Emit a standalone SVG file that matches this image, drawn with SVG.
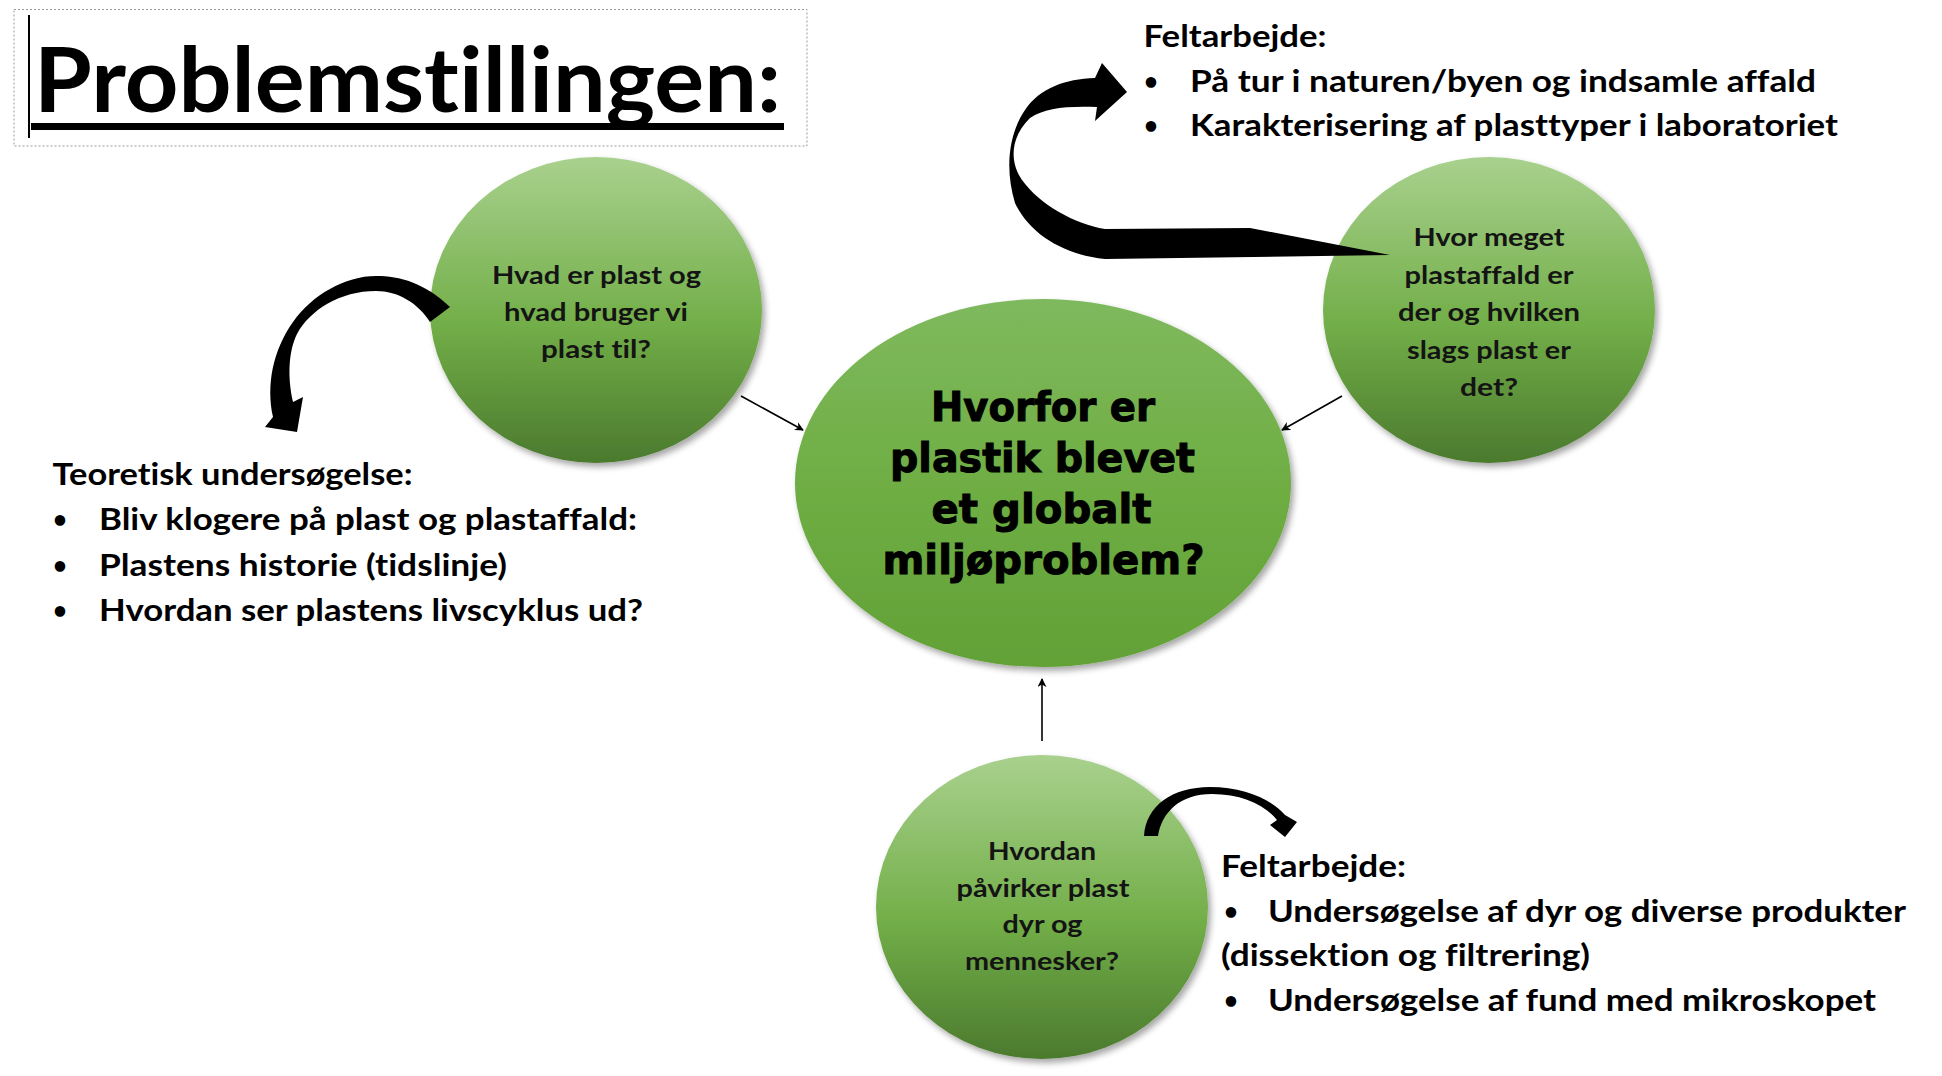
<svg xmlns="http://www.w3.org/2000/svg" width="1942" height="1076" viewBox="0 0 1942 1076">
<defs>
<style>
.t{font-family:Lato,"Open Sans","Liberation Sans",sans-serif;font-weight:700;fill:#000;font-variant-ligatures:none;}
.lbl{font-size:31px;}
.bul{font-size:24px;}
.nd{font-size:25px;fill:#141414;}
.ctr{font-family:"DejaVu Sans",Verdana,sans-serif;font-weight:700;font-size:40px;fill:#000;stroke:#000;stroke-width:1;}
.con{stroke:#000;stroke-width:1.6;fill:none;marker-end:url(#ah);}
.big{fill:#000;stroke:none;}
</style>
<linearGradient id="gs" x1="0" y1="0" x2="0" y2="1">
<stop offset="0" stop-color="#a9d18e"/>
<stop offset="0.55" stop-color="#72ae48"/>
<stop offset="1" stop-color="#4b7a2e"/>
</linearGradient>
<linearGradient id="gc" x1="0" y1="0" x2="0" y2="1">
<stop offset="0" stop-color="#7fb95e"/>
<stop offset="0.5" stop-color="#6fae44"/>
<stop offset="1" stop-color="#62a136"/>
</linearGradient>
<filter id="sh" x="-10%" y="-10%" width="125%" height="125%">
<feDropShadow dx="3" dy="4" stdDeviation="3" flood-color="#000" flood-opacity="0.35"/>
</filter>
<marker id="ah" viewBox="0 0 10 10" refX="9" refY="5" markerWidth="9" markerHeight="9" markerUnits="userSpaceOnUse" orient="auto">
<path d="M0,0 L10,5 L0,10 L3,5 Z" fill="#000"/>
</marker>
</defs>
<rect width="1942" height="1076" fill="#fff"/>

<g id="title">
<rect x="14" y="9.5" width="793" height="136.5" fill="none" stroke="#9a9a9a" stroke-width="1" stroke-dasharray="2,2"/>
<line x1="29" y1="15" x2="29" y2="138" stroke="#000" stroke-width="2"/>
<text class="t" x="34" y="112" font-size="89" textLength="747" lengthAdjust="spacingAndGlyphs">Problemstillingen:</text>
<rect x="31" y="123" width="753" height="7" fill="#000"/>
</g>

<g id="node-center">
<ellipse cx="1043" cy="483" rx="248" ry="184" fill="url(#gc)" filter="url(#sh)"/>
<text class="ctr" x="931" y="421" textLength="224" lengthAdjust="spacingAndGlyphs">Hvorfor er</text>
<text class="ctr" x="890" y="472" textLength="305" lengthAdjust="spacingAndGlyphs">plastik blevet</text>
<text class="ctr" x="931.5" y="523" textLength="220" lengthAdjust="spacingAndGlyphs">et globalt</text>
<text class="ctr" x="882.5" y="574" textLength="322" lengthAdjust="spacingAndGlyphs">miljøproblem?</text>
</g>

<g id="node-hvad">
<ellipse cx="596" cy="310" rx="166" ry="153" fill="url(#gs)" filter="url(#sh)"/>
<text class="t nd" x="492" y="284" textLength="209" lengthAdjust="spacingAndGlyphs">Hvad er plast og</text>
<text class="t nd" x="504" y="321" textLength="184" lengthAdjust="spacingAndGlyphs">hvad bruger vi</text>
<text class="t nd" x="541" y="358" textLength="110" lengthAdjust="spacingAndGlyphs">plast til?</text>
</g>

<g id="node-hvor">
<ellipse cx="1489" cy="310" rx="166" ry="153" fill="url(#gs)" filter="url(#sh)"/>
<text class="t nd" x="1413.5" y="246" textLength="151" lengthAdjust="spacingAndGlyphs">Hvor meget</text>
<text class="t nd" x="1404.5" y="283.5" textLength="169" lengthAdjust="spacingAndGlyphs">plastaffald er</text>
<text class="t nd" x="1398" y="321" textLength="182" lengthAdjust="spacingAndGlyphs">der og hvilken</text>
<text class="t nd" x="1407" y="358.5" textLength="164" lengthAdjust="spacingAndGlyphs">slags plast er</text>
<text class="t nd" x="1460" y="396" textLength="58" lengthAdjust="spacingAndGlyphs">det?</text>
</g>

<g id="node-hvordan">
<ellipse cx="1042" cy="907" rx="166" ry="152" fill="url(#gs)" filter="url(#sh)"/>
<text class="t nd" x="988" y="860" textLength="108" lengthAdjust="spacingAndGlyphs">Hvordan</text>
<text class="t nd" x="956.5" y="897" textLength="173" lengthAdjust="spacingAndGlyphs">påvirker plast</text>
<text class="t nd" x="1002.5" y="933" textLength="80" lengthAdjust="spacingAndGlyphs">dyr og</text>
<text class="t nd" x="965" y="970" textLength="154" lengthAdjust="spacingAndGlyphs">mennesker?</text>
</g>

<g id="text-teoretisk">
<text class="t lbl" x="52.5" y="485" textLength="360" lengthAdjust="spacingAndGlyphs">Teoretisk undersøgelse:</text>
<text class="t bul" x="53" y="528">•</text>
<text class="t lbl" x="99" y="530" textLength="538" lengthAdjust="spacingAndGlyphs">Bliv klogere på plast og plastaffald:</text>
<text class="t bul" x="53" y="574">•</text>
<text class="t lbl" x="99" y="576" textLength="408" lengthAdjust="spacingAndGlyphs">Plastens historie (tidslinje)</text>
<text class="t bul" x="53" y="619">•</text>
<text class="t lbl" x="99" y="621" textLength="544" lengthAdjust="spacingAndGlyphs">Hvordan ser plastens livscyklus ud?</text>
</g>

<g id="text-felt-top">
<text class="t lbl" x="1143.5" y="46.5" textLength="183" lengthAdjust="spacingAndGlyphs">Feltarbejde:</text>
<text class="t bul" x="1144" y="89.5">•</text>
<text class="t lbl" x="1190" y="91.5" textLength="626" lengthAdjust="spacingAndGlyphs">På tur i naturen/byen og indsamle affald</text>
<text class="t bul" x="1144" y="134">•</text>
<text class="t lbl" x="1190" y="136" textLength="648" lengthAdjust="spacingAndGlyphs">Karakterisering af plasttyper i laboratoriet</text>
</g>

<g id="text-felt-bottom">
<text class="t lbl" x="1221" y="877" textLength="185" lengthAdjust="spacingAndGlyphs">Feltarbejde:</text>
<text class="t bul" x="1224" y="920">•</text>
<text class="t lbl" x="1268" y="922" textLength="638" lengthAdjust="spacingAndGlyphs">Undersøgelse af dyr og diverse produkter</text>
<text class="t lbl" x="1221" y="966" textLength="369" lengthAdjust="spacingAndGlyphs">(dissektion og filtrering)</text>
<text class="t bul" x="1224" y="1009">•</text>
<text class="t lbl" x="1268" y="1011" textLength="608" lengthAdjust="spacingAndGlyphs">Undersøgelse af fund med mikroskopet</text>
</g>

<g id="connectors">
<line class="con" x1="741" y1="396" x2="803" y2="430"/>
<line class="con" x1="1342" y1="396" x2="1282" y2="430"/>
<line class="con" x1="1042" y1="741" x2="1042" y2="679"/>
<path class="big" d="M450,307 C425,283 400,276 376,276 C345,276 312,295 293,322 C273,350 266,385 273,417 L265,427 L297,432 L303,397 L293,402 C287,375 289,350 297,334 C310,310 340,291 376,291 C398,291 418,303 430,322 Z"/>
<path class="big" d="M1390,255 L1250,228 L1105,229 C1075,224 1040,205 1022,180 C1008,160 1012,135 1030,118 C1045,108 1065,106 1097,107 L1095,121 L1127,92 L1102,63 L1095,78 C1065,79 1040,88 1025,110 C1008,135 1005,170 1015,203 C1030,235 1065,255 1105,259 Z"/>
<path class="big" d="M1144,836 C1146,806 1172,787 1210,787 C1245,787 1272,800 1285,815 L1297,822 L1285,837 L1270,825 L1277,820 C1265,805 1242,794 1212,794 C1180,794 1162,812 1158,836 Z"/>
</g>
</svg>
